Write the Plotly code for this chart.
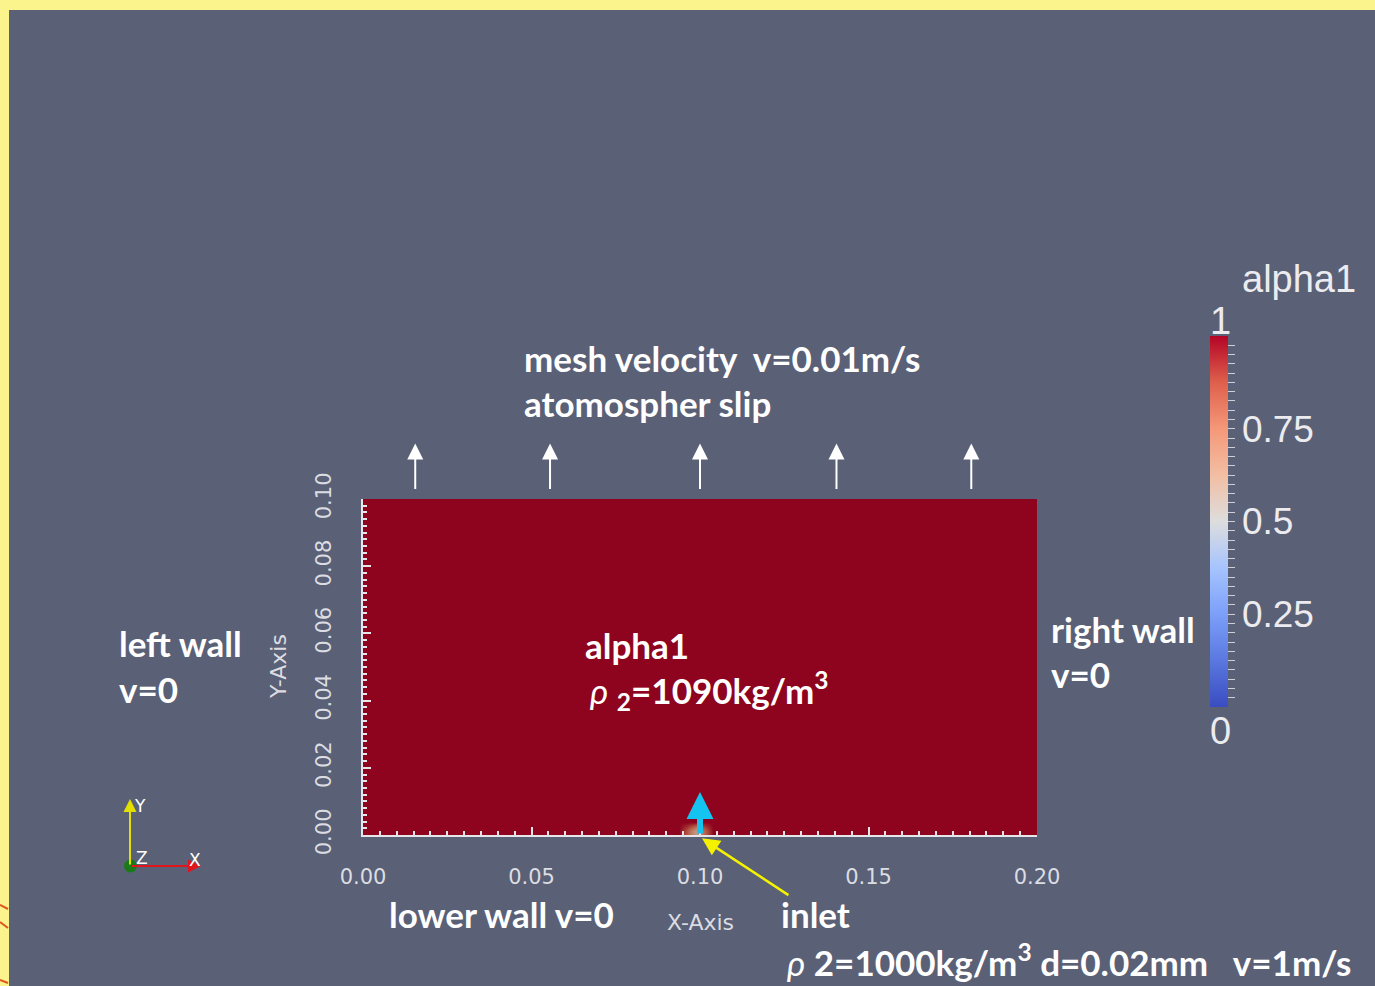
import numpy as np
import plotly.graph_objects as go

# ---- field data: alpha1 on a 0.2 m x 0.1 m domain ----
domain_x = [0.0, 0.2]
domain_y = [0.0, 0.1]
n_cols, n_rows = 80, 40
alpha_bulk = 1.0
# (row, col, alpha1) cells that differ from the bulk value, at the inlet
inlet_cells = [(0, 38, 0.85), (0, 39, 0.6), (0, 40, 0.8)]

x_ticks = [0.00, 0.05, 0.10, 0.15, 0.20]
y_ticks = [0.00, 0.02, 0.04, 0.06, 0.08, 0.10]
cbar_major = [0.25, 0.5, 0.75]

# boundary arrows (x positions along the top, in m)
mesh_arrow_x = [0.0155, 0.0555, 0.1, 0.1405, 0.1805]
mesh_arrow_y = [0.1025, 0.1165]  # tail, tip
inlet_x = 0.1
pointer_tail = (0.1267, -0.0182)
pointer_tip = (0.1006, -0.001)

dx = (domain_x[1] - domain_x[0]) / n_cols
dy = (domain_y[1] - domain_y[0]) / n_rows
xc = domain_x[0] + dx * (np.arange(n_cols) + 0.5)
yc = domain_y[0] + dy * (np.arange(n_rows) + 0.5)
z = np.full((n_rows, n_cols), alpha_bulk)
for r, c, v in inlet_cells:
    z[r, c] = v

# cool-warm diverging map
coolwarm = [
    (0.0, (58, 76, 193)), (0.125, (90, 120, 223)), (0.25, (124, 159, 249)),
    (0.375, (166, 196, 254)), (0.5, (221, 221, 221)), (0.625, (242, 190, 163)),
    (0.75, (245, 152, 121)), (0.875, (222, 96, 76)), (1.0, (180, 4, 38)),
]
cw_scale = [[p, f"rgb{c}"] for p, c in coolwarm]
shade = 0.79
shaded_scale = [[p, "rgb(%d,%d,%d)" % tuple(int(round(v * shade)) for v in c)] for p, c in coolwarm]

W, H = 1375, 986
M_L, M_R, M_T, M_B = 363, 338, 499, 151
PW, PH = W - M_L - M_R, H - M_T - M_B
BG = "#5a6076"
TXT = "#dcdde2"


def px(x):
    # page pixel column -> plot-area fraction
    return (x - M_L) / PW


def py(y):
    # page pixel row -> plot-area fraction
    return (H - M_B - y) / PH


def fx(xd):
    # data x -> plot-area fraction
    return (xd - domain_x[0]) / (domain_x[1] - domain_x[0])


def fy(yd):
    # data y -> plot-area fraction
    return (yd - domain_y[0]) / (domain_y[1] - domain_y[0])


fig = go.Figure()
fig.add_trace(go.Heatmap(
    x=xc, y=yc, z=z, zmin=0, zmax=1, colorscale=shaded_scale,
    showscale=False, zsmooth="best", hoverinfo="skip",
))

# colour legend
cb_ticks = [round(0.025 * i, 3) for i in range(1, 40)]
cb_text = [("%g" % t) if t in cbar_major else "" for t in cb_ticks]
fig.add_trace(go.Scatter(
    x=[domain_x[1] / 2], y=[domain_y[1] / 2], mode="markers", hoverinfo="skip",
    marker=dict(size=1, opacity=0, color=[1.0], cmin=0, cmax=1, colorscale=cw_scale,
                showscale=True,
                colorbar=dict(
                    x=px(1210), xanchor="left", xref="paper",
                    y=py(521.5), yanchor="middle", yref="paper",
                    thickness=18, thicknessmode="pixels", len=371, lenmode="pixels",
                    outlinewidth=0, xpad=0, ypad=0,
                    tickmode="array", tickvals=cb_ticks, ticktext=cb_text,
                    ticks="outside", ticklen=7, tickwidth=1, tickcolor="#d0d0d6",
                    tickfont=dict(family="Liberation Sans", size=37, color="#ececf0"),
                )),
    showlegend=False,
))

axis_common = dict(
    showgrid=False, zeroline=False, showline=True, linecolor="#e6e6ea", linewidth=2,
    ticks="inside", ticklen=8, tickwidth=1.5, tickcolor="#e6e6ea",
    tickfont=dict(family="DejaVu Sans", size=21, color=TXT),
)
fig.update_xaxes(range=domain_x, tickvals=x_ticks, ticktext=["%.2f" % t for t in x_ticks],
                 minor=dict(dtick=0.005, ticks="inside", ticklen=4, tickcolor="#e6e6ea"),
                 ticklabelstandoff=22, **axis_common)
fig.update_yaxes(range=domain_y, tickvals=y_ticks, ticktext=["%.2f" % t for t in y_ticks],
                 minor=dict(dtick=0.002, ticks="inside", ticklen=4, tickcolor="#e6e6ea"),
                 tickangle=-90, ticklabelstandoff=22, **axis_common)

ann = []
bold = dict(family="Lato", size=35, color="white", weight="bold")


def label(text, x, y, **kw):
    d = dict(text=text, x=px(x), y=py(y), xref="paper", yref="paper",
             xanchor="left", yanchor="middle", showarrow=False, font=bold)
    d.update(kw)
    ann.append(d)


label("mesh velocity  v=0.01m/s", 522, 358)
label("atomospher slip", 522, 403)
label("left wall", 117, 643)
label("v=0", 117, 689)
label("right wall", 1049, 629)
label("v=0", 1049, 674)
label("alpha1", 583, 645)
label("<span style='font-weight:normal'><i>ρ</i></span> <sub>2</sub>=1090kg/m<sup>3</sup>", 588, 690)
label("lower wall v=0", 387, 914)
label("inlet", 779, 914)
label("<span style='font-weight:normal'><i>ρ</i></span> 2=1000kg/m<sup>3</sup> d=0.02mm   v=1m/s", 785, 960)

thin = dict(family="DejaVu Sans", size=22, color=TXT)
ann.append(dict(text="X-Axis", x=0.1, y=py(922), xref="x", yref="paper",
                showarrow=False, font=thin, xanchor="center", yanchor="middle"))
ann.append(dict(text="Y-Axis", x=px(278), y=0.05, xref="paper", yref="y", textangle=-90,
                showarrow=False, font=thin, xanchor="center", yanchor="middle"))

big = dict(family="Liberation Sans", size=38, color="#ececf0")
ann.append(dict(text="alpha1", x=px(1299), y=py(279), xref="paper", yref="paper",
                showarrow=False, font=big, xanchor="center", yanchor="middle"))
ann.append(dict(text="1", x=px(1220), y=py(321), xref="paper", yref="paper",
                showarrow=False, font=big, xanchor="center", yanchor="middle"))
ann.append(dict(text="0", x=px(1220), y=py(731), xref="paper", yref="paper",
                showarrow=False, font=big, xanchor="center", yanchor="middle"))

x_scale = PW / (domain_x[1] - domain_x[0])
y_scale = PH / (domain_y[1] - domain_y[0])

# moving top boundary arrows
for xa in mesh_arrow_x:
    ann.append(dict(x=fx(xa), y=fy(mesh_arrow_y[1]), xref="paper", yref="paper",
                    ax=0, ay=(mesh_arrow_y[1] - mesh_arrow_y[0]) * y_scale,
                    text="", showarrow=True, arrowhead=2, arrowsize=1.6, arrowwidth=2,
                    arrowcolor="white", standoff=0, startstandoff=0))

# inlet jet
ann.append(dict(x=inlet_x, y=0.0128, ax=inlet_x, ay=0.0, xref="x", yref="y", axref="x", ayref="y",
                text="", showarrow=True, arrowhead=2, arrowsize=0.9, arrowwidth=6,
                arrowcolor="#14c3ef", standoff=0, startstandoff=0))
# pointer to inlet
ann.append(dict(x=fx(pointer_tip[0]), y=fy(pointer_tip[1]), xref="paper", yref="paper",
                ax=(pointer_tail[0] - pointer_tip[0]) * x_scale,
                ay=-(pointer_tail[1] - pointer_tip[1]) * y_scale,
                text="", showarrow=True, arrowhead=2, arrowsize=1.4,
                arrowwidth=2.5, arrowcolor="#f5f200", standoff=0, startstandoff=0))

# orientation triad
ann.append(dict(x=px(130), y=py(799), xref="paper", yref="paper", ax=0, ay=67, text="",
                showarrow=True, arrowhead=2, arrowsize=1.3, arrowwidth=2, arrowcolor="#e3e000"))
ann.append(dict(x=px(201), y=py(866), xref="paper", yref="paper", ax=-71, ay=0, text="",
                showarrow=True, arrowhead=2, arrowsize=1.3, arrowwidth=2, arrowcolor="#e0141c"))
small = dict(family="DejaVu Sans", size=17, color="white")
for t, x, y in [("Y", 140, 806), ("Z", 142, 858), ("X", 195, 860)]:
    ann.append(dict(text=t, x=px(x), y=py(y), xref="paper", yref="paper", showarrow=False,
                    font=small, xanchor="center", yanchor="middle"))

shapes = [
    dict(type="rect", xref="paper", yref="paper", x0=px(9), x1=px(W), y0=py(H), y1=py(10),
         fillcolor=BG, line=dict(width=0), layer="below"),
    dict(type="circle", xref="paper", yref="paper", x0=px(124), x1=px(137), y0=py(872.5), y1=py(859.5),
         fillcolor="#1a7a1a", line=dict(width=0)),
]
for y0, y1 in [(905, 909), (922, 928), (980, 983)]:
    shapes.append(dict(type="line", xref="paper", yref="paper", x0=px(0), x1=px(8), y0=py(y0), y1=py(y1),
                       line=dict(color="#e0561c", width=2)))

fig.update_layout(
    width=W, height=H, margin=dict(l=M_L, r=M_R, t=M_T, b=M_B),
    paper_bgcolor="#fbf38c", plot_bgcolor=BG,
    annotations=ann, shapes=shapes, showlegend=False,
)

fig.write_html("out.html")
